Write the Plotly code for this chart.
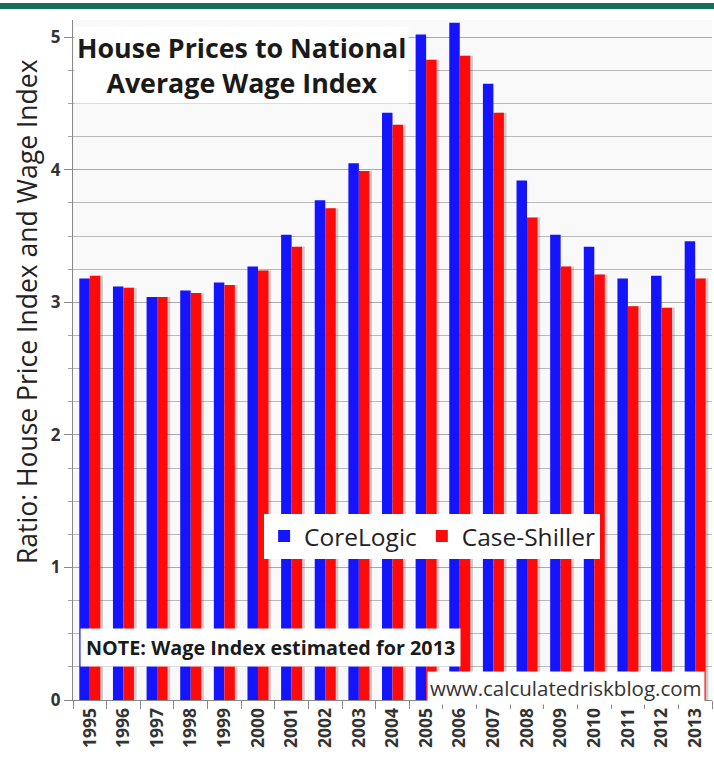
import plotly.graph_objects as go

years = [str(y) for y in range(1995, 2014)]
corelogic = [3.18, 3.12, 3.04, 3.09, 3.15, 3.27, 3.51, 3.77, 4.05, 4.43,
             5.02, 5.11, 4.65, 3.92, 3.51, 3.42, 3.18, 3.20, 3.46]
case_shiller = [3.20, 3.11, 3.04, 3.07, 3.13, 3.24, 3.42, 3.71, 3.99, 4.34,
                4.83, 4.86, 4.43, 3.64, 3.27, 3.21, 2.97, 2.96, 3.18]

title_lines = ["House Prices to National", "Average Wage Index"]
y_title = "Ratio: House Price Index and Wage Index"
note_text = "NOTE: Wage Index estimated for 2013"
source_text = "www.calculatedriskblog.com"

FONT = "Open Sans"
BW = 0.312

fig = go.Figure()
# soft drop shadows
fig.add_trace(go.Bar(x=years, y=case_shiller, offset=0.08, width=BW,
                     marker=dict(color="rgba(90,90,90,0.28)", line_width=0),
                     showlegend=False, hoverinfo="skip"))
fig.add_trace(go.Bar(x=years, y=corelogic, name="CoreLogic", offset=-BW, width=BW,
                     marker=dict(color="#1414ff", line_width=0)))
fig.add_trace(go.Bar(x=years, y=case_shiller, name="Case-Shiller", offset=0, width=BW,
                     marker=dict(color="#ff0a0a", line_width=0)))

fig.update_layout(
    width=714, height=757,
    margin=dict(l=73, r=2, t=20, b=57),
    barmode="overlay",
    paper_bgcolor="#ffffff",
    plot_bgcolor="#f9f9f9",
    font=dict(family=FONT, color="#222222"),
    showlegend=True,
    legend=dict(orientation="h", x=0.562, y=0.241, xanchor="center", yanchor="middle",
                bgcolor="#ffffff", font=dict(size=24.5, color="#222222", family=FONT),
                itemwidth=30, traceorder="normal"),
)

fig.update_yaxes(range=[0, 5.13], dtick=1, tick0=0,
                 showgrid=True, gridcolor="#a9a9a9", gridwidth=1,
                 minor=dict(dtick=0.25, showgrid=True, gridcolor="#b9b9b9", gridwidth=1,
                            ticks="outside", ticklen=4, tickcolor="#a0a0a0"),
                 ticks="outside", ticklen=8, tickcolor="#888888",
                 showline=True, linecolor="#888888", linewidth=1,
                 tickfont=dict(size=17, family=FONT, color="#333333", weight="bold"),
                 zeroline=False)
fig.update_xaxes(type="category", range=[-0.5, 18.5], tickangle=-90, ticks="outside",
                 tickson="boundaries", ticklen=8, tickcolor="#888888",
                 showline=True, linecolor="#888888", linewidth=1,
                 tickfont=dict(size=17.5, family=FONT, color="#333333", weight="bold"),
                 showgrid=False)

# top green band
fig.add_shape(type="rect", xref="paper", yref="paper", x0=-0.2, x1=1.1,
              y0=1 + 11 / 680, y1=1 + 17 / 680, fillcolor="#16705a", line_width=0)

fig.add_annotation(text="<b>" + "<br>".join(title_lines) + "</b>", xref="paper", yref="paper",
                   x=0.002, y=0.991, xanchor="left", yanchor="top", align="center",
                   showarrow=False, bgcolor="#ffffff", borderpad=2,
                   font=dict(size=26.8, family=FONT, color="#1a1a1a"))
fig.add_annotation(text=y_title, xref="paper", yref="paper", textangle=-90,
                   x=-0.072, y=0.572, xanchor="center", yanchor="middle",
                   showarrow=False, font=dict(size=26.5, family=FONT, color="#222222"))
fig.add_annotation(text="<b>" + note_text + "</b>", xref="paper", yref="paper",
                   x=0.011, y=0.0765, xanchor="left", yanchor="middle",
                   showarrow=False, bgcolor="#ffffff", borderpad=5,
                   font=dict(size=19.8, family=FONT, color="#1a1a1a"))
fig.add_annotation(text=source_text, xref="paper", yref="paper",
                   x=0.989, y=0.0176, xanchor="right", yanchor="middle",
                   showarrow=False, bgcolor="#ffffff", borderpad=2,
                   font=dict(size=20.5, family=FONT, color="#333333"))

fig.write_html("out.html", config={"displayModeBar": False},
               post_script="document.body.style.margin='0';document.body.style.overflow='hidden';")
